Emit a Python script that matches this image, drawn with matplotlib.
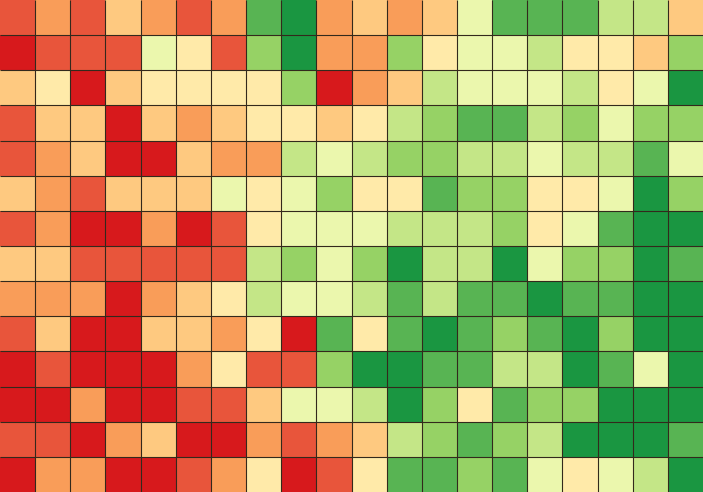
import numpy as np
import matplotlib
matplotlib.use("Agg")
import matplotlib.pyplot as plt
from matplotlib.colors import ListedColormap, BoundaryNorm

# Level of each cell (0 = deep red ... 9 = dark green), rows top to bottom
row_00 = [1, 2, 1, 3, 2, 1, 2, 8, 9, 2, 3, 2, 3, 5, 8, 8, 8, 6, 6, 3]
row_01 = [0, 1, 1, 1, 5, 4, 1, 7, 9, 2, 2, 7, 4, 5, 5, 6, 4, 4, 3, 7]
row_02 = [3, 4, 0, 3, 4, 4, 4, 4, 7, 0, 2, 3, 6, 5, 5, 5, 6, 4, 5, 9]
row_03 = [1, 3, 3, 0, 3, 2, 3, 4, 4, 3, 4, 6, 7, 8, 8, 6, 7, 5, 7, 7]
row_04 = [1, 2, 3, 0, 0, 3, 2, 2, 6, 5, 6, 7, 7, 6, 6, 5, 6, 6, 8, 5]
row_05 = [3, 2, 1, 3, 3, 3, 5, 4, 5, 7, 4, 4, 8, 7, 7, 4, 4, 5, 9, 7]
row_06 = [1, 2, 0, 0, 2, 0, 1, 4, 5, 5, 5, 6, 6, 6, 7, 4, 5, 8, 9, 9]
row_07 = [3, 3, 1, 1, 1, 1, 1, 6, 7, 5, 7, 9, 6, 6, 9, 5, 7, 7, 9, 8]
row_08 = [2, 2, 2, 0, 2, 3, 4, 6, 5, 5, 6, 8, 6, 8, 8, 9, 8, 8, 9, 9]
row_09 = [1, 3, 0, 0, 3, 3, 2, 4, 0, 8, 4, 8, 9, 8, 7, 8, 9, 7, 9, 9]
row_10 = [0, 1, 0, 0, 0, 2, 4, 1, 1, 7, 9, 9, 8, 8, 6, 6, 9, 8, 5, 9]
row_11 = [0, 0, 2, 0, 0, 1, 1, 3, 5, 5, 6, 9, 7, 4, 8, 7, 7, 9, 9, 9]
row_12 = [1, 1, 0, 2, 3, 0, 0, 2, 1, 2, 3, 6, 7, 8, 7, 6, 9, 9, 9, 8]
row_13 = [0, 2, 2, 0, 0, 1, 2, 4, 0, 1, 4, 8, 8, 7, 8, 5, 4, 5, 6, 9]

level_colors = ["#d7191c", "#e8553b", "#f99d59", "#fec980", "#ffeaa9",
                "#ebf7ad", "#c4e687", "#96d265", "#58b453", "#1a9641"]

data = np.array([row_00, row_01, row_02, row_03, row_04, row_05, row_06,
                 row_07, row_08, row_09, row_10, row_11, row_12, row_13])
n_rows, n_cols = data.shape

cmap = ListedColormap(level_colors)
norm = BoundaryNorm(np.arange(-0.5, 10.5, 1), cmap.N)

fig = plt.figure(figsize=(7.03, 4.92), dpi=100)
ax = fig.add_axes([0, 0, 1, 1])
ax.pcolormesh(data, cmap=cmap, norm=norm, edgecolors="none")
line_color = "#33291c"
ax.vlines(np.arange(1, n_cols), 0, n_rows, colors=line_color, linewidth=0.8)
ax.hlines(np.arange(1, n_rows), 0, n_cols, colors=line_color, linewidth=0.8)
ax.set_xlim(0, n_cols)
ax.set_ylim(n_rows, 0)
ax.axis("off")
fig.savefig("out.png", dpi=100)
